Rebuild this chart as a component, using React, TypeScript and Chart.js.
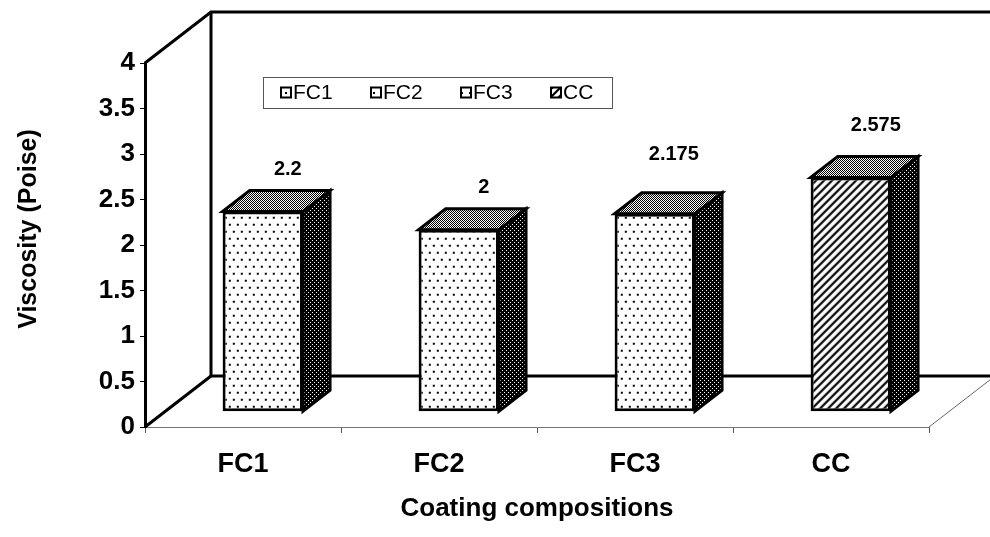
import React, { useEffect, useRef } from 'react';
import { Chart, registerables } from 'chart.js';

Chart.register(...registerables);

// ---- data ----
const categories = ['FC1', 'FC2', 'FC3', 'CC'];
const viscosity = [2.2, 2, 2.175, 2.575];
const valueLabels = ['2.2', '2', '2.175', '2.575'];
const legendLabels = ['FC1', 'FC2', 'FC3', 'CC'];
const yMin = 0;
const yMax = 4;
const yStep = 0.5;
const yTitle = 'Viscosity (Poise)';
const xTitle = 'Coating compositions';

// ---- style ----
const FONT = "'Liberation Sans', Arial, Helvetica, sans-serif";
const WALL_DX = 66;
const WALL_DY = -51;
const BAR_FRONT = 0.3; // depth fraction of the bar front plane
const BAR_DEPTH = 0.41; // depth fraction of the bar thickness
const LABEL_NUDGE_X = [0, 0, -6, 0];
const LABEL_NUDGE_Y = [0, 0, -17, -10];

function makePattern(w: number, h: number, draw: (c: CanvasRenderingContext2D) => void): CanvasPattern {
  const cv = document.createElement('canvas');
  cv.width = w;
  cv.height = h;
  const c = cv.getContext('2d') as CanvasRenderingContext2D;
  draw(c);
  return c.createPattern(cv, 'repeat') as CanvasPattern;
}

export default function App() {
  const ref = useRef<HTMLCanvasElement | null>(null);

  useEffect(() => {
    const canvas = ref.current;
    if (!canvas) return;

    const dots = makePattern(8, 14, (c) => {
      c.fillStyle = '#fff';
      c.fillRect(0, 0, 8, 14);
      c.fillStyle = '#000';
      c.fillRect(1, 1, 2, 2);
      c.fillRect(5, 8, 2, 2);
    });
    const hatch = makePattern(8, 8, (c) => {
      c.fillStyle = '#fff';
      c.fillRect(0, 0, 8, 8);
      c.strokeStyle = '#000';
      c.lineWidth = 2.2;
      c.beginPath();
      c.moveTo(-2, 2); c.lineTo(2, -2);
      c.moveTo(0, 8); c.lineTo(8, 0);
      c.moveTo(6, 10); c.lineTo(10, 6);
      c.stroke();
    });
    const sidePat = makePattern(4, 4, (c) => {
      c.fillStyle = '#000';
      c.fillRect(0, 0, 4, 4);
      c.fillStyle = '#fff';
      c.fillRect(0, 0, 1, 1);
      c.fillRect(2, 2, 1, 1);
    });
    const topPat = makePattern(4, 4, (c) => {
      c.fillStyle = '#fff';
      c.fillRect(0, 0, 4, 4);
      c.fillStyle = '#000';
      c.fillRect(0, 0, 1, 1);
      c.fillRect(2, 0, 1, 1);
      c.fillRect(1, 1, 1, 1);
      c.fillRect(3, 1, 1, 1);
      c.fillRect(0, 2, 1, 1);
      c.fillRect(2, 2, 1, 1);
      c.fillRect(1, 3, 1, 1);
      c.fillRect(3, 3, 1, 1);
    });
    const frontFills = [dots, dots, dots, hatch];

    const threeD = {
      id: 'threeD',
      beforeDatasetsDraw(chart: any) {
        const { ctx, chartArea: a } = chart;
        const L = a.left, R = a.right, T = a.top, B = a.bottom;
        const W = chart.width;
        ctx.save();
        ctx.strokeStyle = '#000';
        ctx.lineWidth = 3;
        ctx.lineJoin = 'miter';
        ctx.beginPath();
        ctx.moveTo(L, T);
        ctx.lineTo(L + WALL_DX, T + WALL_DY);
        ctx.lineTo(W + 5, T + WALL_DY);
        ctx.stroke();
        ctx.beginPath();
        ctx.moveTo(L + WALL_DX, T + WALL_DY);
        ctx.lineTo(L + WALL_DX, B + WALL_DY);
        ctx.lineTo(W + 5, B + WALL_DY);
        ctx.stroke();
        ctx.beginPath();
        ctx.moveTo(L, B);
        ctx.lineTo(L + WALL_DX, B + WALL_DY);
        ctx.stroke();
        ctx.strokeStyle = '#666';
        ctx.lineWidth = 1;
        ctx.beginPath();
        ctx.moveTo(R, B);
        ctx.lineTo(R + WALL_DX, B + WALL_DY);
        ctx.stroke();
        ctx.restore();

        const meta = chart.getDatasetMeta(0);
        const fx = WALL_DX * BAR_FRONT, fy = WALL_DY * BAR_FRONT;
        const dx = WALL_DX * BAR_DEPTH, dy = WALL_DY * BAR_DEPTH;
        ctx.save();
        ctx.strokeStyle = '#000';
        ctx.lineWidth = 3;
        ctx.lineJoin = 'miter';
        meta.data.forEach((bar: any) => {
          const p = bar.getProps(['x', 'y', 'base', 'width'], true);
          const l = p.x - p.width / 2 + fx;
          const r = p.x + p.width / 2 + fx;
          const t = p.y + fy;
          const b = p.base + fy;
          ctx.beginPath();
          ctx.moveTo(r, t);
          ctx.lineTo(r + dx, t + dy);
          ctx.lineTo(r + dx, b + dy);
          ctx.lineTo(r, b);
          ctx.closePath();
          ctx.fillStyle = sidePat;
          ctx.fill();
          ctx.stroke();
          ctx.beginPath();
          ctx.moveTo(l, t);
          ctx.lineTo(l + dx, t + dy);
          ctx.lineTo(r + dx, t + dy);
          ctx.lineTo(r, t);
          ctx.closePath();
          ctx.fillStyle = topPat;
          ctx.fill();
          ctx.stroke();
        });
        ctx.restore();
        ctx.save();
        ctx.translate(fx, fy);
      },
      afterDatasetsDraw(chart: any) {
        const { ctx } = chart;
        ctx.restore();
        const meta = chart.getDatasetMeta(0);
        const fx = WALL_DX * BAR_FRONT, fy = WALL_DY * BAR_FRONT;
        const dy = WALL_DY * BAR_DEPTH;
        ctx.save();
        ctx.fillStyle = '#000';
        ctx.font = `bold 20px ${FONT}`;
        ctx.textAlign = 'center';
        ctx.textBaseline = 'middle';
        meta.data.forEach((bar: any, i: number) => {
          const p = bar.getProps(['x', 'y'], true);
          const cx = p.x + fx + 25 + LABEL_NUDGE_X[i];
          const cy = p.y + fy + dy - 21 + LABEL_NUDGE_Y[i];
          ctx.fillText(valueLabels[i], cx, cy);
        });
        ctx.restore();
      },
      afterDraw(chart: any) {
        const { ctx } = chart;
        // legend
        const bx = 263, by = 77, bw = 349, bh = 31;
        ctx.save();
        ctx.fillStyle = '#fff';
        ctx.fillRect(bx, by, bw, bh);
        ctx.strokeStyle = '#555';
        ctx.lineWidth = 1;
        ctx.strokeRect(bx + 0.5, by + 0.5, bw, bh);
        ctx.font = `21px ${FONT}`;
        ctx.textBaseline = 'middle';
        ctx.textAlign = 'left';
        legendLabels.forEach((lab, i) => {
          const x = bx + 18 + i * 90;
          const y = by + bh / 2;
          ctx.fillStyle = frontFills[i];
          ctx.fillRect(x, y - 5, 10, 10);
          ctx.strokeStyle = '#000';
          ctx.lineWidth = 2;
          ctx.strokeRect(x, y - 5, 10, 10);
          ctx.fillStyle = '#000';
          ctx.fillText(lab, x + 12, y + 1);
        });
        // y-axis title
        ctx.translate(29, 229);
        ctx.rotate(-Math.PI / 2);
        ctx.font = `bold 25px ${FONT}`;
        ctx.textAlign = 'center';
        ctx.textBaseline = 'middle';
        ctx.fillStyle = '#000';
        ctx.fillText(yTitle, 0, 0);
        ctx.restore();
      },
    };

    const chart = new Chart(canvas, {
      type: 'bar',
      data: {
        labels: categories,
        datasets: [
          {
            label: 'Viscosity',
            data: viscosity,
            backgroundColor: frontFills as any,
            borderColor: '#000',
            borderWidth: 3,
            borderSkipped: false,
            categoryPercentage: 1,
            barPercentage: 0.41,
            clip: false as any,
          },
        ],
      },
      options: {
        responsive: false,
        animation: false,
        layout: { padding: { top: 63, right: 61, left: 0, bottom: 0 } },
        plugins: { legend: { display: false }, tooltip: { enabled: false } },
        scales: {
          x: {
            afterFit: (s: any) => { s.height = 110; },
            grid: { display: true, drawOnChartArea: false, drawTicks: true, tickLength: 6, color: '#555', lineWidth: 1, offset: true },
            border: { display: true, color: '#777', width: 1 },
            ticks: { color: '#000', font: { family: FONT, size: 27, weight: 'bold' }, padding: 15 },
            title: { display: true, text: xTitle, color: '#000', font: { family: FONT, size: 26, weight: 'bold' }, padding: { top: 0, bottom: 13 } },
          },
          y: {
            min: yMin,
            max: yMax,
            afterFit: (s: any) => { s.width = 145; },
            ticks: {
              stepSize: yStep,
              color: '#000',
              font: { family: FONT, size: 26, weight: 'bold' },
              padding: 5,
              callback: (v: any) => `${Number(v)}`,
            },
            grid: { drawOnChartArea: false, drawTicks: true, tickLength: 5, color: '#000', lineWidth: 1 },
            border: { display: true, color: '#000', width: 3 },
            title: { display: false },
          },
        },
      },
      plugins: [threeD],
    });

    return () => chart.destroy();
  }, []);

  return (
    <div style={{ position: 'fixed', left: 0, top: 0, width: 990, height: 537, background: '#fff' }}>
      <canvas ref={ref} width={990} height={537} style={{ display: 'block', width: 990, height: 537 }} />
    </div>
  );
}
